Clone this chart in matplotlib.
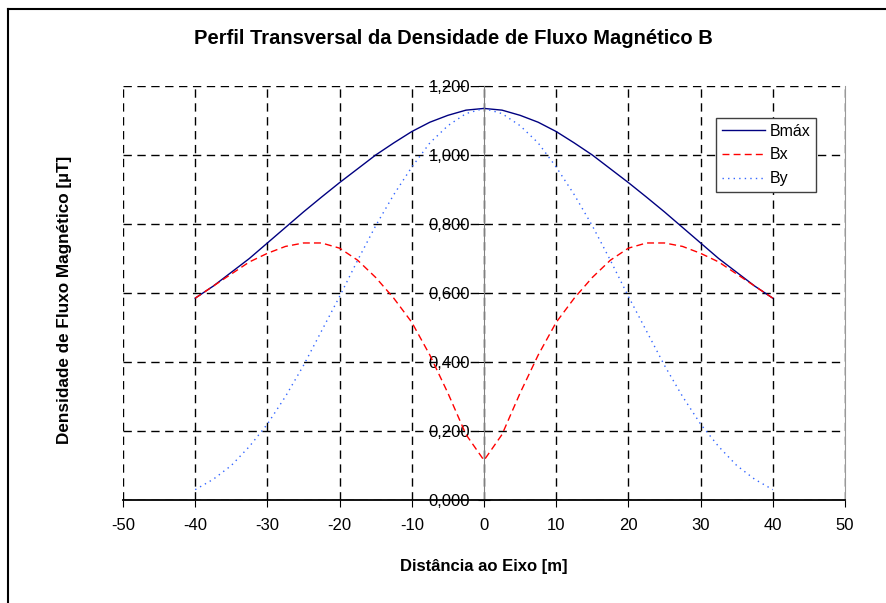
import matplotlib.pyplot as plt
from matplotlib.lines import Line2D

plt.rcParams['font.family'] = ['Liberation Sans', 'DejaVu Sans']

dist = [-40, -37.5, -35, -32.5, -30, -27.5, -25, -22.5, -20, -17.5, -15, -12.5, -10, -7.5, -5, -2.5,
        0, 2.5, 5, 7.5, 10, 12.5, 15, 17.5, 20, 22.5, 25, 27.5, 30, 32.5, 35, 37.5, 40]
bmax = [0.585, 0.62, 0.66, 0.70, 0.745, 0.79, 0.835, 0.878, 0.92, 0.96, 1.0, 1.035, 1.068, 1.095, 1.115, 1.13,
        1.135, 1.13, 1.115, 1.095, 1.068, 1.035, 1.0, 0.96, 0.92, 0.878, 0.835, 0.79, 0.745, 0.70, 0.66, 0.62, 0.585]
bx = [0.585, 0.62, 0.655, 0.69, 0.715, 0.735, 0.745, 0.745, 0.73, 0.695, 0.645, 0.585, 0.515, 0.42, 0.31, 0.19,
      0.115, 0.19, 0.31, 0.42, 0.515, 0.585, 0.645, 0.695, 0.73, 0.745, 0.745, 0.735, 0.715, 0.69, 0.655, 0.62, 0.585]
by = [0.03, 0.06, 0.10, 0.155, 0.22, 0.30, 0.39, 0.49, 0.59, 0.695, 0.795, 0.885, 0.965, 1.035, 1.085, 1.12,
      1.135, 1.12, 1.085, 1.035, 0.965, 0.885, 0.795, 0.695, 0.59, 0.49, 0.39, 0.30, 0.22, 0.155, 0.10, 0.06, 0.03]

xticks = list(range(-50, 51, 10))
yticks = [0, 0.2, 0.4, 0.6, 0.8, 1.0, 1.2]
ylabels = ["0,000", "0,200", "0,400", "0,600", "0,800", "1,000", "1,200"]

fig = plt.figure(figsize=(8.86, 6.03), dpi=100)
ax = fig.add_axes([123 / 886, 103 / 603, 722 / 886, 414 / 603])

ax.plot(dist, bmax, color="#000080", lw=1, label="Bmáx")
ax.plot(dist, bx, color="#ff0000", lw=1, ls=(0, (5, 3)), label="Bx")
ax.plot(dist, by, color="#3366ff", lw=1, ls=(0, (1, 3)), label="By")

ax.set_xlim(-50, 50)
ax.set_ylim(0, 1.2)
ax.set_xticks(xticks)
ax.set_xticklabels([str(t) for t in xticks])
ax.set_yticks(yticks)
ax.set_yticklabels(ylabels)
ax.grid(True, color="black", ls=(0, (6, 4)), lw=1)
ax.set_axisbelow(True)

ax.spines['left'].set_position(('data', 0))
ax.spines['left'].set_color("#808080")
ax.spines['top'].set_visible(False)
ax.spines['right'].set_color("#999999")
ax.spines['bottom'].set_color("black")
ax.spines['bottom'].set_linewidth(1.3)
ax.tick_params(axis='y', direction='inout', length=8, labelsize=12, color="black", pad=6)
ax.tick_params(axis='x', direction='out', length=5, labelsize=12, pad=8)

fig.text(453 / 886, 1 - 38 / 603, "Perfil Transversal da Densidade de Fluxo Magnético B",
         fontsize=14.5, fontweight='bold', ha='center', va='center')
fig.text(484 / 886, 1 - 566 / 603, "Distância ao Eixo [m]", fontsize=12, fontweight='bold',
         ha='center', va='center')
fig.text(65 / 886, 1 - 300 / 603, "Densidade de Fluxo Magnético [µT]", fontsize=12.3,
         fontweight='bold', rotation=90, ha='center', va='center')

leg = ax.legend(loc='upper left', bbox_to_anchor=((716 - 123) / 722, (500 - 118) / 414),
                borderaxespad=0, fancybox=False, framealpha=1, edgecolor="#404040", fontsize=11.5,
                handlelength=2.7, handletextpad=0.3, borderpad=0.35, labelspacing=0.55)
leg.get_frame().set_linewidth(1)

fig.add_artist(Line2D([8 / 886, 8 / 886], [0, 1 - 9 / 603], color="black", lw=1.5))
fig.add_artist(Line2D([8 / 886, 1], [1 - 9 / 603, 1 - 9 / 603], color="black", lw=1.5))

fig.savefig("out.png", dpi=100)
